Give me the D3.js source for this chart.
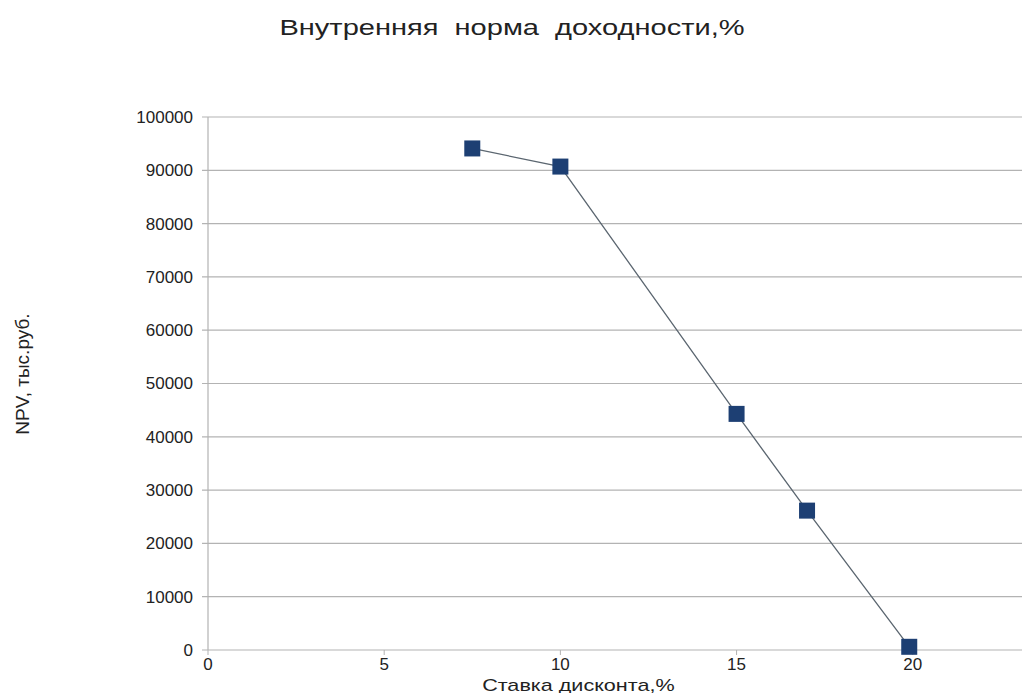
<!DOCTYPE html>
<head>
  <meta charset="utf-8">
  <script src="https://d3js.org/d3.v7.min.js"></script>
  <style>
body { margin: 0; background: #fff; }
text { font-family: "Liberation Sans", Arial, sans-serif; fill: #222; }
.grid line { stroke: #b3b3b3; stroke-width: 1.2px; }
  </style>
</head>
<body>
  <script>
    // discount rate, % and NPV, thousand rub.
    var rates = [7.5, 10, 15, 17, 19.9];
    var npv = [94100, 90700, 44300, 26150, 600];
    var xTicks = [0, 5, 10, 15, 20];
    var yTicks = [0, 10000, 20000, 30000, 40000, 50000, 60000, 70000, 80000, 90000, 100000];

    var width = 1022, height = 693;
    var svg = d3.select("body").append("svg")
      .attr("width", width)
      .attr("height", height);

    var x = d3.scaleLinear().domain([0, 23.1]).range([208, 1022]);
    var y = d3.scaleLinear().domain([0, 100000]).range([650, 117]);

    // horizontal grid
    svg.append("g").attr("class", "grid")
      .selectAll("line")
      .data(yTicks)
      .enter().append("line")
      .attr("x1", x(0) - 6).attr("x2", width)
      .attr("y1", d => y(d)).attr("y2", d => y(d));

    // y axis line
    svg.append("line")
      .attr("x1", x(0)).attr("x2", x(0))
      .attr("y1", y(100000)).attr("y2", y(0))
      .attr("stroke", "#b3b3b3").attr("stroke-width", 1.2);

    svg.append("g").selectAll("text")
      .data(yTicks)
      .enter().append("text")
      .attr("x", x(0) - 15)
      .attr("y", d => y(d))
      .attr("dy", "0.35em")
      .attr("text-anchor", "end")
      .style("font-size", "17px")
      .text(d => d);

    // x ticks
    svg.append("g").selectAll("line")
      .data(xTicks)
      .enter().append("line")
      .attr("x1", d => x(d)).attr("x2", d => x(d))
      .attr("y1", y(0)).attr("y2", y(0) + 5)
      .attr("stroke", "#b3b3b3");

    svg.append("g").selectAll("text")
      .data(xTicks)
      .enter().append("text")
      .attr("x", d => x(d))
      .attr("y", y(0) + 20)
      .attr("text-anchor", "middle")
      .style("font-size", "17px")
      .text(d => d);

    // series
    var pts = rates.map((r, i) => [r, npv[i]]);
    var line = d3.line().x(d => x(d[0])).y(d => y(d[1]));
    svg.append("path")
      .datum(pts)
      .attr("d", line)
      .attr("fill", "none")
      .attr("stroke", "#5b6670")
      .attr("stroke-width", 1.3);

    var s = 16;
    svg.append("g").selectAll("rect")
      .data(pts)
      .enter().append("rect")
      .attr("x", d => x(d[0]) - s / 2)
      .attr("y", d => y(d[1]) - s / 2)
      .attr("width", s).attr("height", s)
      .attr("fill", "#1d3f73");

    // titles (the source picture is a bit stretched sideways)
    svg.append("text")
      .attr("transform", "translate(512,35) scale(1.32,1)")
      .attr("text-anchor", "middle")
      .style("font-size", "22px")
      .style("white-space", "pre")
      .text("Внутренняя  норма  доходности,%");

    svg.append("text")
      .attr("transform", "translate(" + (x(10) + 18) + ",691) scale(1.27,1)")
      .attr("text-anchor", "middle")
      .style("font-size", "17px")
      .text("Ставка дисконта,%");

    svg.append("text")
      .attr("transform", "translate(29,374) rotate(-90)")
      .attr("text-anchor", "middle")
      .style("font-size", "19px")
      .text("NPV, тыс.руб.");
  </script>
</body>
